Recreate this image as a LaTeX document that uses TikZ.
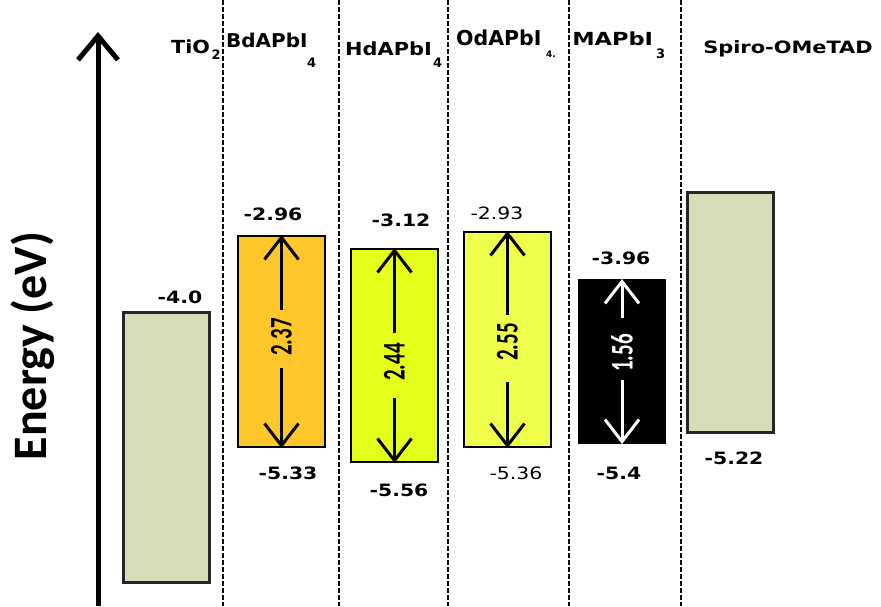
\documentclass[tikz,border=0pt]{standalone}
\usepackage{fontspec}
\setmainfont{DejaVu Sans}
\newfontfamily\carl{Carlito}
\usetikzlibrary{arrows.meta}
\definecolor{tiocol}{HTML}{D5DEB8}
\definecolor{bdcol}{HTML}{FFC72C}
\definecolor{hdcol}{HTML}{E6FF1A}
\definecolor{odcol}{HTML}{F0FF4C}
\begin{document}
\begin{tikzpicture}[x=1pt,y=-1pt,
  sepline/.style={line width=2.5pt, dash pattern=on 4.5pt off 2.5pt},
  band/.style={draw=black, line width=2pt, inner sep=0pt},
  thickband/.style={band, line width=3pt, draw=black!85},
  gaparrow/.style={line width=3pt, -{Straight Barb[length=22pt,width=34pt]}},
  val/.style={inner sep=0pt, xscale=1.2, font=\bfseries\fontsize{17}{17}\selectfont},
  valn/.style={inner sep=0pt, xscale=1.2, font=\fontsize{17}{17}\selectfont},
  hdr/.style={inner sep=0pt, anchor=base west, font=\bfseries\fontsize{19}{19}\selectfont},
  subs/.style={inner sep=0pt, anchor=base west, font=\bfseries\fontsize{13}{13}\selectfont},
  gapnum/.style={inner sep=0pt, xscale=1.5, rotate=90, font=\carl\bfseries\fontsize{21}{21}\selectfont}
]
\useasboundingbox (0,0) rectangle (881,606);

% dashed separators
\foreach \i/\x in {1/223,2/339,3/448,4/569,5/681}{
  \coordinate (s\i t) at (\x,0);
  \coordinate (s\i b) at (\x,606);
  \draw[sepline] (s\i t) -- (s\i b);
}

% energy axis
\coordinate (axB) at (98,606);
\coordinate (axT) at (98,32);
\draw[line width=5pt, -{Straight Barb[length=24pt,width=40pt]}] (axB) -- (axT);
\node[rotate=90, anchor=base, inner sep=0pt, font=\carl\bfseries\fontsize{48}{48}\selectfont] (ylab) at (46,346) {Energy (eV)};

% headers
\node[hdr, font=\bfseries\fontsize{18}{18}\selectfont, xscale=1.15] (hTi) at (171,53) {TiO};
\node[subs] (hTis) at (211.5,59) {2};
\node[hdr, xscale=1.05] (hBd) at (226,47) {BdAPbI};
\node[subs] (hBds) at (307,67) {4};
\node[hdr, font=\bfseries\fontsize{18}{18}\selectfont, xscale=1.16] (hHd) at (345,55) {HdAPbI};
\node[subs] (hHds) at (433,67) {4};
\node[hdr, font=\bfseries\fontsize{20.5}{20.5}\selectfont] (hOd) at (456,45) {OdAPbI};
\node[subs, font=\bfseries\fontsize{9}{9}\selectfont] (hOds) at (546,57) {4.};
\node[hdr, font=\bfseries\fontsize{18}{18}\selectfont, xscale=1.25] (hMA) at (572,45) {MAPbI};
\node[subs] (hMAs) at (656,58) {3};
\node[hdr, font=\bfseries\fontsize{17}{17}\selectfont, xscale=1.23] (hSp) at (703,53) {Spiro-OMeTAD};

% bands
\node[thickband, fill=tiocol, minimum width=86pt, minimum height=270pt] (tio) at (166,447) {};
\node[band, fill=bdcol, minimum width=87pt, minimum height=211pt] (bd) at (281.5,341.5) {};
\node[band, fill=hdcol, minimum width=87pt, minimum height=213pt] (hd) at (394.5,355.5) {};
\node[band, fill=odcol, minimum width=87pt, minimum height=215pt] (od) at (507.5,339.5) {};
\node[band, fill=black, minimum width=86pt, minimum height=163pt] (ma) at (622,361.5) {};
\node[thickband, fill=tiocol, minimum width=86pt, minimum height=240pt] (sp) at (730,312) {};

% gap arrows
\coordinate (bdA) at (281.5,310); \coordinate (bdB) at (281.5,368);
\node[gapnum] (bdn) at (281.5,337) {2.37};
\draw[gaparrow] (bdA) -- (bd.north);
\draw[gaparrow] (bdB) -- (bd.south);

\coordinate (hdA) at (394.5,333); \coordinate (hdB) at (394.5,398);
\node[gapnum] (hdn) at (394.5,362) {2.44};
\draw[gaparrow] (hdA) -- (hd.north);
\draw[gaparrow] (hdB) -- (hd.south);

\coordinate (odA) at (507.5,315); \coordinate (odB) at (507.5,382);
\node[gapnum] (odn) at (507.5,342) {2.55};
\draw[gaparrow] (odA) -- (od.north);
\draw[gaparrow] (odB) -- (od.south);

\coordinate (maA) at (622,318); \coordinate (maB) at (622,380);
\node[gapnum, text=white] (man) at (622,353) {1.56};
\draw[gaparrow, white] (maA) -- (ma.north);
\draw[gaparrow, white] (maB) -- (ma.south);

% energy values
\node[val] (vTi) at (180,297) {-4.0};
\node[val] (vBdU) at (273,214) {-2.96};
\node[val] (vBdL) at (288,473) {-5.33};
\node[val] (vHdU) at (401,220) {-3.12};
\node[val] (vHdL) at (399,490) {-5.56};
\node[valn] (vOdU) at (497,213) {-2.93};
\node[valn] (vOdL) at (516,473) {-5.36};
\node[val] (vMAU) at (621,258) {-3.96};
\node[val] (vMAL) at (619,473) {-5.4};
\node[val] (vSp) at (734,458) {-5.22};
\end{tikzpicture}
\end{document}
